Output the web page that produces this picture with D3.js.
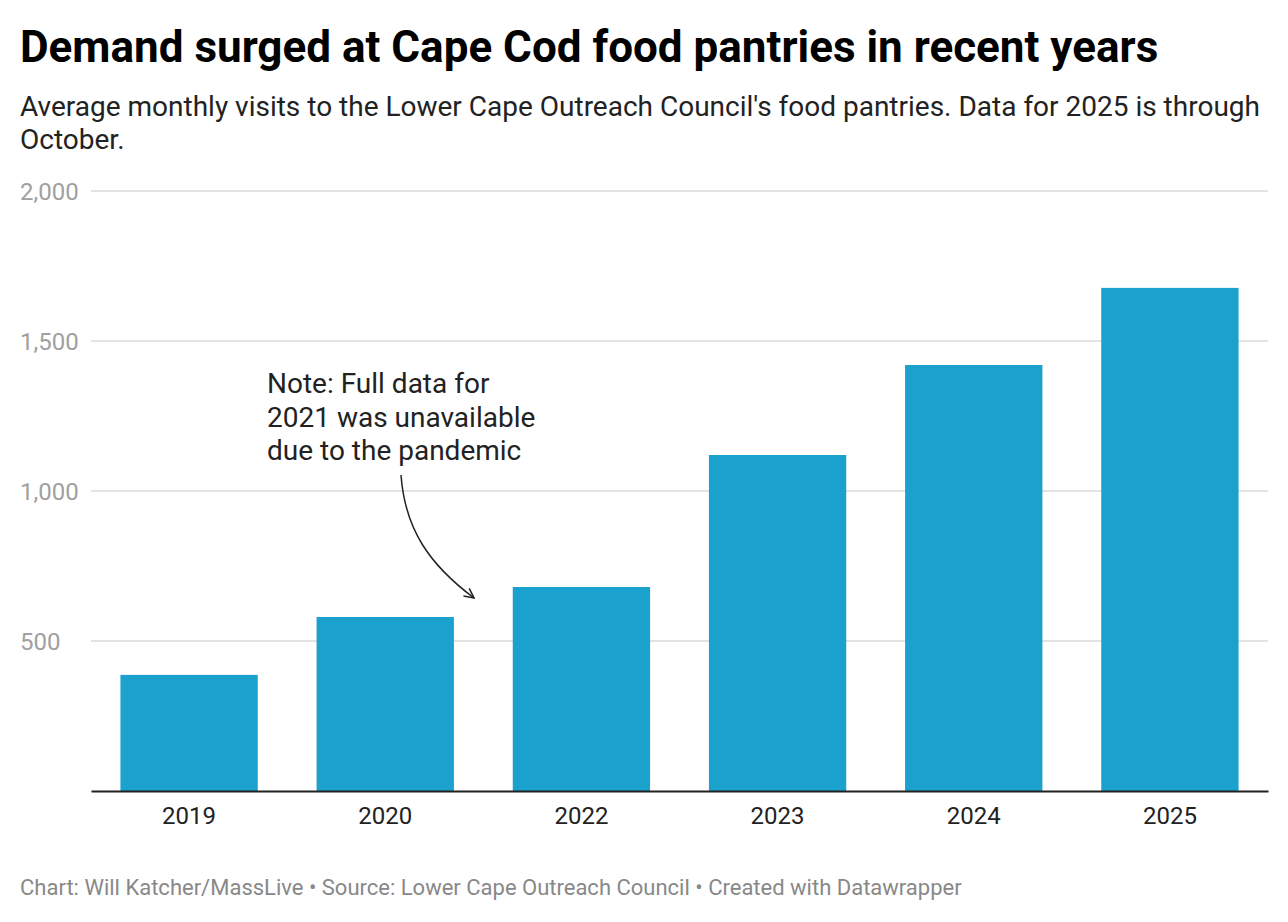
<!DOCTYPE html>
<html>
<head>
<meta charset="utf-8">
<script src="https://cdn.jsdelivr.net/npm/d3@7"></script>
<style>
  body { margin: 0; background: #fff; font-family: Roboto, sans-serif; }
</style>
</head>
<body>
<div id="chart"></div>
<script>
// data
var years = ["2019", "2020", "2022", "2023", "2024", "2025"];
var visits = [387, 580, 680, 1120, 1420, 1677];
var yTicks = [500, 1000, 1500, 2000];
var noteLines = ["Note: Full data for", "2021 was unavailable", "due to the pandemic"];

var W = 1288, H = 922;
var margin = {top: 191, right: 20, bottom: 131, left: 91},
    width = W - margin.left - margin.right,
    height = H - margin.top - margin.bottom;

var svg = d3.select("#chart")
  .append("svg")
    .attr("width", W)
    .attr("height", H);

// title + subtitle
svg.append("text")
  .attr("x", 20).attr("y", 62)
  .style("font-size", "44px").style("font-weight", "700").style("fill", "#000")
  .text("Demand surged at Cape Cod food pantries in recent years");
svg.append("text")
  .attr("x", 20).attr("y", 116)
  .style("font-size", "28px").style("fill", "#222")
  .text("Average monthly visits to the Lower Cape Outreach Council's food pantries. Data for 2025 is through");
svg.append("text")
  .attr("x", 20).attr("y", 149)
  .style("font-size", "28px").style("fill", "#222")
  .text("October.");

var g = svg.append("g")
  .attr("transform", "translate(" + margin.left + "," + margin.top + ")");

var x = d3.scaleBand()
  .domain(years)
  .range([0, width])
  .paddingInner(0.3)
  .paddingOuter(0.15);

var y = d3.scaleLinear()
  .domain([0, 2000])
  .range([height, 0]);

// gridlines
g.append("g")
  .selectAll("line")
  .data(yTicks)
  .enter()
  .append("line")
    .attr("x1", 0).attr("x2", width)
    .attr("y1", function(d) { return y(d); })
    .attr("y2", function(d) { return y(d); })
    .style("stroke", "#e3e3e3")
    .style("stroke-width", 2);

// y labels
g.append("g")
  .selectAll("text")
  .data(yTicks)
  .enter()
  .append("text")
    .attr("x", -71)
    .attr("y", function(d) { return y(d) + 8.5; })
    .style("font-size", "24px")
    .style("fill", "#a0a0a0")
    .text(function(d) { return d3.format(",")(d); });

// bars
g.append("g")
  .selectAll("rect")
  .data(visits)
  .enter()
  .append("rect")
    .attr("x", function(d, i) { return x(years[i]); })
    .attr("y", function(d) { return y(d); })
    .attr("width", x.bandwidth())
    .attr("height", function(d) { return height - y(d); })
    .style("fill", "#1aa1cd");

// x axis
var xAxis = g.append("g")
  .attr("transform", "translate(0," + height + ")")
  .call(d3.axisBottom(x).tickSize(0).tickPadding(16));
xAxis.select(".domain").style("stroke", "#222").style("stroke-width", 2);
xAxis.selectAll("text")
  .style("font-family", "Roboto, sans-serif")
  .style("font-size", "24px")
  .style("fill", "#222");

// note
svg.append("text")
  .attr("x", 267).attr("y", 393)
  .style("font-size", "28px").style("fill", "#222")
  .selectAll("tspan")
  .data(noteLines)
  .enter()
  .append("tspan")
    .attr("x", 267)
    .attr("dy", function(d, i) { return i ? 33.5 : 0; })
    .text(function(d) { return d; });

// arrow
svg.append("defs").append("marker")
  .attr("id", "head")
  .attr("viewBox", "0 0 10 10")
  .attr("refX", 9).attr("refY", 5)
  .attr("markerWidth", 12).attr("markerHeight", 12)
  .attr("markerUnits", "userSpaceOnUse")
  .attr("orient", "auto")
  .append("path")
    .attr("d", "M1,1 L9,5 L1,9")
    .style("fill", "none").style("stroke", "#222").style("stroke-width", 1.3);

svg.append("path")
  .attr("d", "M401,475 C405,530 430,565 474,598")
  .style("fill", "none")
  .style("stroke", "#222")
  .style("stroke-width", 1.5)
  .attr("marker-end", "url(#head)");

// footer
svg.append("text")
  .attr("x", 20).attr("y", 895)
  .style("font-size", "22px").style("fill", "#888")
  .text("Chart: Will Katcher/MassLive \u2022 Source: Lower Cape Outreach Council \u2022 Created with Datawrapper");
</script>
</body>
</html>
